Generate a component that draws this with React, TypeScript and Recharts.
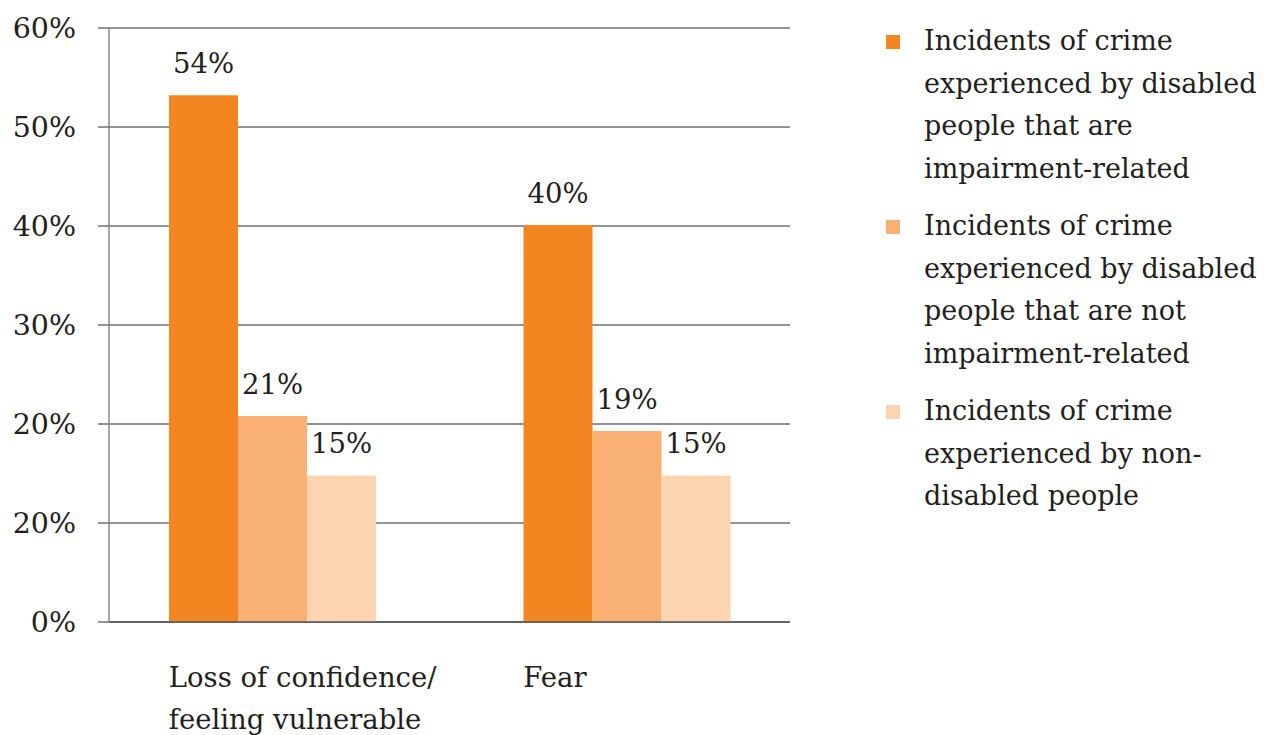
import { BarChart, Bar, XAxis, YAxis, CartesianGrid, LabelList, Legend } from "recharts";

// categories (line-broken as in the source)
const categories = ["Loss of confidence/|feeling vulnerable", "Fear"];

// bar heights as drawn, and the labels printed above them
const impairmentRelated = [53.2, 40.1];
const notImpairmentRelated = [20.8, 19.3];
const nonDisabled = [14.8, 14.8];
const impairmentLabels = ["54%", "40%"];
const notImpairmentLabels = ["21%", "19%"];
const nonDisabledLabels = ["15%", "15%"];

// y axis (the source repeats "20%" at the 10 mark)
const yTicks = [0, 10, 20, 30, 40, 50, 60];
const yTickLabels = ["0%", "20%", "20%", "30%", "40%", "50%", "60%"];

const seriesNames = [
    ["Incidents of crime", "experienced by disabled", "people that are", "impairment-related"],
    ["Incidents of crime", "experienced by disabled", "people that are not", "impairment-related"],
    ["Incidents of crime", "experienced by non-", "disabled people"],
];
const colors = ["#F48621", "#F9B073", "#FCD4B0"];

const FONT = "DejaVu Serif";
const TEXT = "#231f20";
const BAR = 69;

const data = categories.map((name, i) => ({
    name,
    a: impairmentRelated[i],
    b: notImpairmentRelated[i],
    c: nonDisabled[i],
    aLabel: impairmentLabels[i],
    bLabel: notImpairmentLabels[i],
    cLabel: nonDisabledLabels[i],
}));

const CategoryTick = ({ x, y, payload }: any) => {
    const lines = String(payload.value).split("|");
    return (
        <text x={x - 1.5 * BAR} y={y + 63} textAnchor="start" fill={TEXT} fontSize={27.5} fontFamily={FONT}>
            {lines.map((l, i) => (
                <tspan key={i} x={x - 1.5 * BAR} dy={i === 0 ? 0 : 42}>{l}</tspan>
            ))}
        </text>
    );
};

const LegendContent = () => (
    <div style={{ fontFamily: FONT, fontSize: 27, lineHeight: "42.5px", color: TEXT }}>
        {seriesNames.map((lines, i) => (
            <div key={i} style={{ position: "relative", paddingLeft: 38, marginBottom: 15 }}>
                <span style={{ position: "absolute", left: 0, top: 15, width: 14, height: 14, background: colors[i] }} />
                {lines.map((l, j) => <div key={j} style={{ whiteSpace: "nowrap" }}>{l}</div>)}
            </div>
        ))}
    </div>
);

export default function App() {
    return (
        <div style={{ position: "absolute", left: 0, top: 0, width: 1264, height: 735, overflow: "hidden", background: "#fff" }}>
            <BarChart
                width={1264}
                height={735}
                data={data}
                margin={{ top: 28, right: 474, left: 0, bottom: 0 }}
                barGap={0}
                barSize={BAR}
            >
                <CartesianGrid vertical={false} stroke="#6f6f6f" strokeWidth={1.5} />
                <XAxis
                    dataKey="name"
                    height={113}
                    padding={{ left: -14, right: -14 }}
                    tickLine={false}
                    tickSize={0}
                    axisLine={{ stroke: "#555", strokeWidth: 1.5 }}
                    tick={<CategoryTick />}
                    interval={0}
                />
                <YAxis
                    width={109}
                    domain={[0, 60]}
                    ticks={yTicks}
                    interval={0}
                    tickFormatter={(v: number) => yTickLabels[yTicks.indexOf(v)]}
                    tickSize={11}
                    tickMargin={22}
                    tickLine={{ stroke: "#6f6f6f", strokeWidth: 1.5 }}
                    axisLine={{ stroke: "#8a8a8a", strokeWidth: 1.5 }}
                    tick={{ fill: TEXT, fontSize: 28.5, fontFamily: FONT }}
                />
                <Legend
                    layout="vertical"
                    align="center"
                    verticalAlign="middle"
                    wrapperStyle={{ left: 886, top: 20, width: 378 }}
                    content={<LegendContent />}
                />
                <Bar dataKey="a" fill={colors[0]} isAnimationActive={false}>
                    <LabelList dataKey="aLabel" position="top" offset={22} fill={TEXT} fontSize={27.5} fontFamily={FONT} />
                </Bar>
                <Bar dataKey="b" fill={colors[1]} isAnimationActive={false}>
                    <LabelList dataKey="bLabel" position="top" offset={22} fill={TEXT} fontSize={27.5} fontFamily={FONT} />
                </Bar>
                <Bar dataKey="c" fill={colors[2]} isAnimationActive={false}>
                    <LabelList dataKey="cLabel" position="top" offset={22} fill={TEXT} fontSize={27.5} fontFamily={FONT} />
                </Bar>
            </BarChart>
        </div>
    );
}
